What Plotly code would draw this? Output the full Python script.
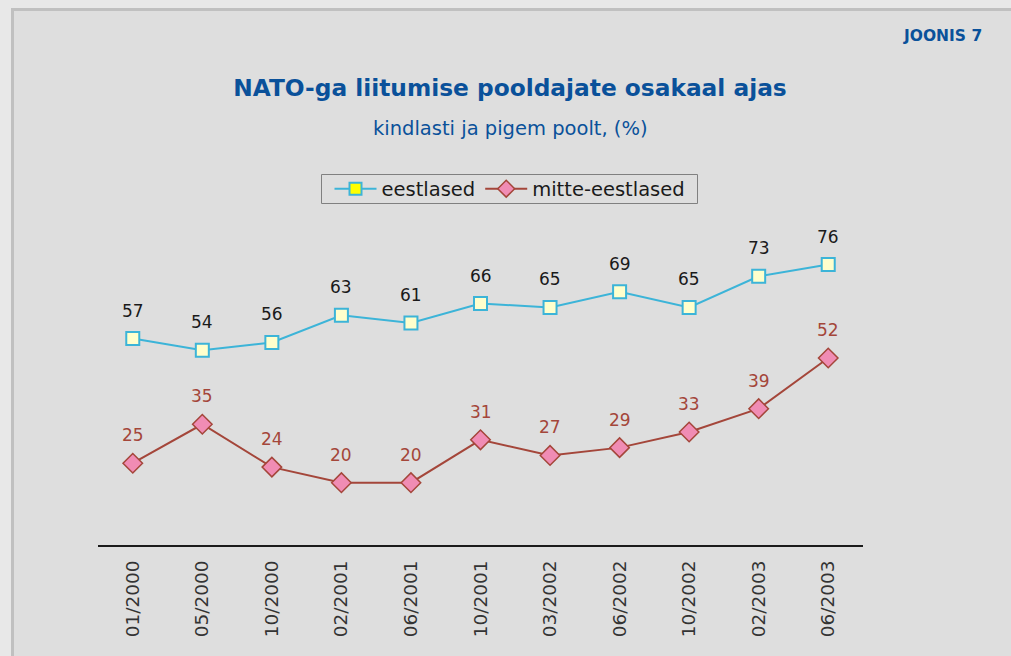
import plotly.graph_objects as go

categories = ["01/2000", "05/2000", "10/2000", "02/2001", "06/2001", "10/2001",
              "03/2002", "06/2002", "10/2002", "02/2003", "06/2003"]
eestlased = [57, 54, 56, 63, 61, 66, 65, 69, 65, 73, 76]
mitte_eestlased = [25, 35, 24, 20, 20, 31, 27, 29, 33, 39, 52]

FONT = "DejaVu Sans"
BLUE_LINE = "#3cb4d8"
BROWN = "#a4463a"
TITLE_BLUE = "#0a519a"

# plot-area pixel geometry (for paper-coordinate conversion)
L, R, T, B = 98, 863, 249, 545
PW, PH = R - L, B - T


def px(x):
    return (x - L) / PW


def py(y):
    return (B - y) / PH


fig = go.Figure()

fig.add_trace(go.Scatter(
    x=categories, y=eestlased, mode="lines+markers", name="eestlased",
    line=dict(color=BLUE_LINE, width=2),
    marker=dict(symbol="square", size=13, color="#ffffcc",
                line=dict(color=BLUE_LINE, width=2)),
    showlegend=False, cliponaxis=False))
fig.add_trace(go.Scatter(
    x=categories, y=mitte_eestlased, mode="lines+markers", name="mitte-eestlased",
    line=dict(color=BROWN, width=2),
    marker=dict(symbol="diamond", size=15, color="#f08cb4",
                line=dict(color=BROWN, width=1.5)),
    showlegend=False, cliponaxis=False))

# legend entries
fig.add_trace(go.Scatter(
    x=[None], y=[None], mode="lines+markers", name="eestlased",
    line=dict(color=BLUE_LINE, width=2),
    marker=dict(symbol="square", size=12, color="#ffff00",
                line=dict(color=BLUE_LINE, width=2))))
fig.add_trace(go.Scatter(
    x=[None], y=[None], mode="lines+markers", name="mitte-eestlased",
    line=dict(color=BROWN, width=2),
    marker=dict(symbol="diamond", size=13, color="#f08cb4",
                line=dict(color=BROWN, width=1.5))))

annotations = []
for c, v in zip(categories, eestlased):
    annotations.append(dict(x=c, y=v, text=str(v), showarrow=False, yshift=28,
                            font=dict(family=FONT, size=17, color="#1a1a1a")))
for c, v in zip(categories, mitte_eestlased):
    annotations.append(dict(x=c, y=v, text=str(v), showarrow=False, yshift=28,
                            font=dict(family=FONT, size=17, color=BROWN)))

annotations.append(dict(xref="paper", yref="paper", x=px(984), y=py(36),
                        xanchor="right", yanchor="middle", showarrow=False,
                        text="<b>JOONIS 7</b>",
                        font=dict(family=FONT, size=15.5, color=TITLE_BLUE)))
annotations.append(dict(xref="paper", yref="paper", x=px(510), y=py(129),
                        xanchor="center", yanchor="middle", showarrow=False,
                        text="kindlasti ja pigem poolt, (%)",
                        font=dict(family=FONT, size=19.5, color=TITLE_BLUE)))

shapes = [
    dict(type="rect", xref="paper", yref="paper", layer="below",
         x0=px(12.5), x1=px(1031), y0=py(676), y1=py(9.5),
         fillcolor="#dedede", line=dict(color="#c0c0c0", width=3)),
    dict(type="rect", xref="paper", yref="paper", layer="below",
         x0=px(321.5), x1=px(697.5), y0=py(203.5), y1=py(174.5),
         fillcolor="rgba(0,0,0,0)", line=dict(color="#808080", width=1)),
]

fig.update_layout(
    width=1011, height=656,
    margin=dict(l=L, r=1011 - R, t=T, b=656 - B),
    paper_bgcolor="#e8e8e8",
    plot_bgcolor="rgba(0,0,0,0)",
    title=dict(text="<b>NATO-ga liitumise pooldajate osakaal ajas</b>",
               x=510 / 1011, xanchor="center", y=1 - 88 / 656, yanchor="middle",
               font=dict(family=FONT, size=23.3, color=TITLE_BLUE)),
    showlegend=True,
    legend=dict(orientation="h", xref="container", yref="container",
                x=510 / 1011, xanchor="center", y=1 - 189 / 656, yanchor="middle",
                bgcolor="rgba(0,0,0,0)", borderwidth=0,
                itemwidth=42, tracegroupgap=0,
                font=dict(family=FONT, size=19.5, color="#1a1a1a")),
    annotations=annotations,
    shapes=shapes,
    xaxis=dict(type="category", range=[-0.5, 10.5], showgrid=False,
               showline=True, linecolor="#1a1a1a", linewidth=2,
               ticks="outside", ticklen=6, tickcolor="rgba(0,0,0,0)",
               tickangle=-90,
               tickfont=dict(family=FONT, size=18.5, color="#333333")),
    yaxis=dict(range=[4, 80], visible=False, showgrid=False, zeroline=False),
)

fig.write_html("out.html",
               config={"displayModeBar": False},
               post_script="document.body.style.margin='0';document.body.style.overflow='hidden';")
